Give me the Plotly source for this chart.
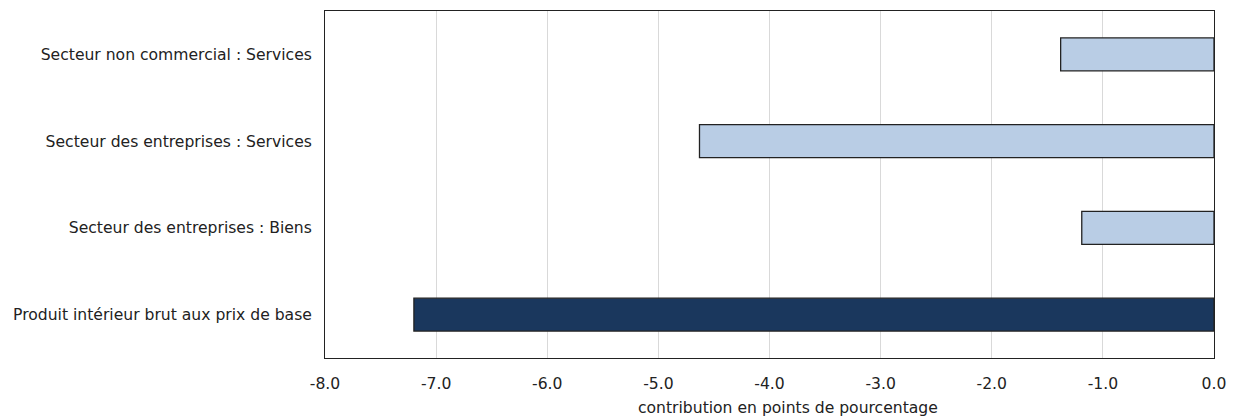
import plotly.graph_objects as go

categories = [
    "Produit intérieur brut aux prix de base",
    "Secteur des entreprises : Biens",
    "Secteur des entreprises : Services",
    "Secteur non commercial : Services",
]
values = [-7.2, -1.19, -4.63, -1.38]
bar_colors = ["#1a375d", "#b9cde5", "#b9cde5", "#b9cde5"]
tick_vals = [-8, -7, -6, -5, -4, -3, -2, -1, 0]
tick_text = ["-8.0", "-7.0", "-6.0", "-5.0", "-4.0", "-3.0", "-2.0", "-1.0", "0.0"]
x_title = "contribution en points de pourcentage"

FONT = "DejaVu Sans"
FS = 15.6

fig = go.Figure(
    go.Bar(
        y=categories,
        x=values,
        orientation="h",
        width=0.38,
        marker=dict(color=bar_colors, line=dict(color="#222222", width=1.3)),
        hoverinfo="x+y",
    )
)

fig.update_layout(
    width=1238,
    height=419,
    margin=dict(l=325, r=24, t=11, b=61, autoexpand=False),
    paper_bgcolor="white",
    plot_bgcolor="white",
    font=dict(family=FONT, size=FS, color="#222222"),
    showlegend=False,
    bargap=0.6,
)

fig.update_xaxes(
    range=[-8, 0],
    tickvals=tick_vals,
    ticktext=tick_text,
    showgrid=True,
    gridcolor="#d9d9d9",
    gridwidth=1,
    zeroline=False,
    showline=True,
    linecolor="#222222",
    linewidth=1,
    mirror=True,
    ticks="",
    automargin=False,
    ticklabelstandoff=11,
    tickfont=dict(family=FONT, size=FS, color="#222222"),
)
fig.update_yaxes(
    categoryorder="array",
    categoryarray=categories,
    range=[-0.5, 3.5],
    showgrid=False,
    zeroline=False,
    showline=True,
    linecolor="#222222",
    linewidth=1,
    mirror=True,
    ticks="",
    automargin=False,
    ticklabelstandoff=9,
    tickfont=dict(family=FONT, size=FS, color="#222222"),
)

fig.add_annotation(
    text=x_title,
    xref="paper",
    yref="paper",
    x=0.521,
    y=0,
    yshift=-50,
    showarrow=False,
    xanchor="center",
    yanchor="middle",
    font=dict(family=FONT, size=FS, color="#222222"),
)

fig.write_html("out.html")
